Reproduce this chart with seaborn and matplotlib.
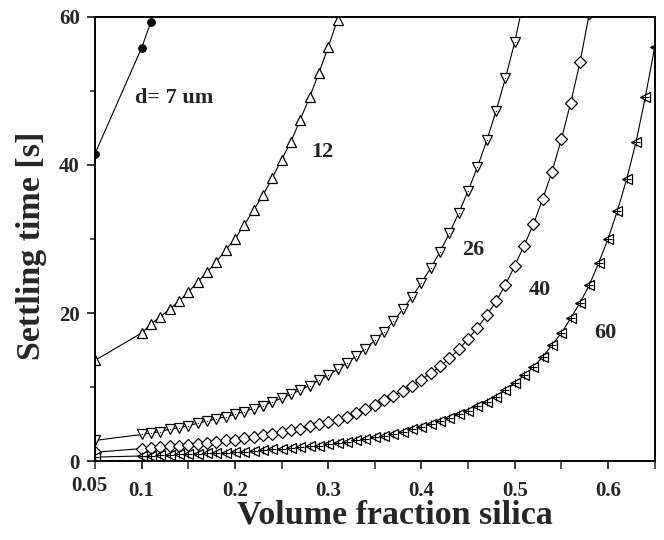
import numpy as np
import pandas as pd
import matplotlib
matplotlib.use("Agg")
import matplotlib.pyplot as plt
import seaborn as sns

# ---------------- data ----------------
x_d7 = [0.05, 0.10, 0.11]
t_d7 = [41.5, 55.8, 59.3]

x_d12 = [0.05, 0.10, 0.11, 0.12, 0.13, 0.14, 0.15, 0.16, 0.17, 0.18, 0.19, 0.20,
         0.21, 0.22, 0.23, 0.24, 0.25, 0.26, 0.27, 0.28, 0.29, 0.30, 0.31]
t_d12 = [13.6, 17.3, 18.5, 19.5, 20.5, 21.6, 22.8, 24.2, 25.5, 26.9, 28.5, 30.0,
         31.9, 33.9, 35.9, 38.2, 40.7, 43.1, 46.1, 49.1, 52.4, 55.9, 59.6]

x_d26 = [0.05, 0.10, 0.11, 0.12, 0.13, 0.14, 0.15, 0.16, 0.17, 0.18, 0.19, 0.20,
         0.21, 0.22, 0.23, 0.24, 0.25, 0.26, 0.27, 0.28, 0.29, 0.30,
         0.31, 0.32, 0.33, 0.34, 0.35, 0.36, 0.37, 0.38, 0.39, 0.40,
         0.41, 0.42, 0.43, 0.44, 0.45, 0.46, 0.47, 0.48, 0.49, 0.50, 0.51]
t_d26 = [2.8, 3.6, 3.8, 4.0, 4.3, 4.5, 4.8, 5.1, 5.4, 5.7, 6.0, 6.3,
         6.7, 7.1, 7.5, 8.0, 8.5, 9.0, 9.6, 10.2, 10.9, 11.6,
         12.4, 13.2, 14.2, 15.2, 16.3, 17.5, 18.9, 20.5, 22.2, 24.1,
         26.1, 28.3, 30.8, 33.5, 36.5, 39.7, 43.3, 47.3, 51.7, 56.6, 62.5]

x_d40 = [0.05, 0.10, 0.11, 0.12, 0.13, 0.14, 0.15, 0.16, 0.17, 0.18, 0.19, 0.20,
         0.21, 0.22, 0.23, 0.24, 0.25, 0.26, 0.27, 0.28, 0.29, 0.30,
         0.31, 0.32, 0.33, 0.34, 0.35, 0.36, 0.37, 0.38, 0.39, 0.40,
         0.41, 0.42, 0.43, 0.44, 0.45, 0.46, 0.47, 0.48, 0.49, 0.50,
         0.51, 0.52, 0.53, 0.54, 0.55, 0.56, 0.57, 0.58]
t_d40 = [1.2, 1.7, 1.8, 1.9, 2.0, 2.1, 2.2, 2.3, 2.5, 2.6, 2.8, 2.9,
         3.1, 3.3, 3.5, 3.7, 3.9, 4.2, 4.4, 4.7, 5.0, 5.3,
         5.6, 6.0, 6.5, 7.0, 7.6, 8.2, 8.8, 9.5, 10.2, 11.0,
         11.9, 12.8, 13.9, 15.1, 16.5, 18.0, 19.7, 21.6, 23.8, 26.4,
         29.1, 32.0, 35.4, 39.1, 43.5, 48.4, 53.9, 60.5]

x_d60 = [0.05, 0.10, 0.11, 0.12, 0.13, 0.14, 0.15, 0.16, 0.17, 0.18, 0.19, 0.20,
         0.21, 0.22, 0.23, 0.24, 0.25, 0.26, 0.27, 0.28, 0.29, 0.30,
         0.31, 0.32, 0.33, 0.34, 0.35, 0.36, 0.37, 0.38, 0.39, 0.40,
         0.41, 0.42, 0.43, 0.44, 0.45, 0.46, 0.47, 0.48, 0.49, 0.50,
         0.51, 0.52, 0.53, 0.54, 0.55, 0.56, 0.57, 0.58, 0.59, 0.60,
         0.61, 0.62, 0.63, 0.64, 0.65]
t_d60 = [0.55, 0.70, 0.75, 0.80, 0.85, 0.90, 0.95, 1.00, 1.05, 1.10, 1.15, 1.20,
         1.30, 1.40, 1.50, 1.60, 1.70, 1.80, 1.90, 2.00, 2.10, 2.25,
         2.40, 2.60, 2.80, 3.00, 3.20, 3.40, 3.70, 4.00, 4.30, 4.60,
         5.00, 5.40, 5.80, 6.30, 6.80, 7.40, 8.00, 8.70, 9.60, 10.5,
         11.6, 12.7, 14.1, 15.7, 17.3, 19.3, 21.4, 23.8, 26.8, 30.0,
         33.8, 38.1, 43.1, 49.2, 55.9]

curve_labels = ["d= 7 um", "12", "26", "40", "60"]
label_x = [0.135, 0.294, 0.456, 0.527, 0.597]
label_y = [49.0, 41.8, 28.5, 23.1, 17.3]

x_ticks = [0.1, 0.2, 0.3, 0.4, 0.5, 0.6]
x_tick_labels = ["0.1", "0.2", "0.3", "0.4", "0.5", "0.6"]
x_minor = [0.05, 0.15, 0.25, 0.35, 0.45, 0.55, 0.65]
y_ticks = [0, 20, 40, 60]
y_minor = [10, 30, 50]

# ---------------- style ----------------
sns.set_style("ticks")
plt.rcParams["font.family"] = ["Liberation Serif", "DejaVu Serif"]
plt.rcParams["font.weight"] = "bold"

fig = plt.figure(figsize=(6.64, 5.40), dpi=100)
ax = fig.add_axes([0.143, 0.146, 0.843, 0.823])

lw = 0.8
# d = 7 um : filled circles
sns.lineplot(x=x_d7, y=t_d7, ax=ax, color="black", linewidth=lw, marker="o",
             markersize=5.5, markerfacecolor="black", markeredgecolor="black",
             sort=False, estimator=None)
# d = 12 : open up triangles
sns.lineplot(x=x_d12, y=t_d12, ax=ax, color="black", linewidth=lw, marker="^",
             markersize=7.5, markerfacecolor="white", markeredgecolor="black",
             markeredgewidth=0.9, sort=False, estimator=None)
# d = 26 : open down triangles with a tiny dot
sns.lineplot(x=x_d26, y=t_d26, ax=ax, color="black", linewidth=lw, marker="v",
             markersize=7.5, markerfacecolor="white", markeredgecolor="black",
             markeredgewidth=0.9, sort=False, estimator=None)
sns.scatterplot(x=x_d26, y=t_d26, ax=ax, color="black", marker=".", s=3,
                linewidth=0, zorder=5)
# d = 40 : open diamonds
sns.lineplot(x=x_d40, y=t_d40, ax=ax, color="black", linewidth=lw, marker="D",
             markersize=6, markerfacecolor="white", markeredgecolor="black",
             markeredgewidth=0.9, sort=False, estimator=None)
# d = 60 : left triangles with plus
sns.lineplot(x=x_d60, y=t_d60, ax=ax, color="black", linewidth=lw, marker="<",
             markersize=7, markerfacecolor="white", markeredgecolor="black",
             markeredgewidth=0.9, sort=False, estimator=None)
sns.scatterplot(x=x_d60, y=t_d60, ax=ax, color="black", marker="+", s=40,
                linewidth=0.8, zorder=5)

ax.set_xlim(0.05, 0.65)
ax.set_ylim(0, 60)

ax.set_xticks(x_ticks)
ax.set_xticklabels(x_tick_labels)
ax.set_xticks(x_minor, minor=True)
ax.set_yticks(y_ticks)
ax.set_yticks(y_minor, minor=True)
ax.tick_params(axis="both", which="major", direction="out", length=6, width=1.1,
               labelsize=15, color="black")
ax.tick_params(axis="x", which="major", pad=8)
ax.tick_params(axis="y", which="major", pad=5)
ax.tick_params(axis="x", which="minor", direction="out", length=6, width=1.1)
ax.tick_params(axis="y", which="minor", direction="out", length=3.5, width=1.1)
for lab in ax.get_xticklabels() + ax.get_yticklabels():
    lab.set_fontweight("bold")

# special 0.05 label (slightly raised and left of its tick)
ax.annotate("0.05", xy=(0.05, 0), xycoords=("data", "axes fraction"),
            xytext=(-6, -15), textcoords="offset pixels",
            ha="center", va="top", fontsize=15, fontweight="bold")

for s in ax.spines.values():
    s.set_visible(True)
    s.set_linewidth(1.4)
    s.set_color("black")

ax.set_xlabel("Volume fraction silica", fontsize=24.5, fontweight="bold",
              va="baseline")
ax.xaxis.set_label_coords(0.536, -0.14)
ax.set_ylabel("Settling time [s]", fontsize=24.5, fontweight="bold")
ax.yaxis.set_label_coords(-0.085, 0.484)

for txt, lx, ly in zip(curve_labels, label_x, label_y):
    ax.text(lx, ly, txt, ha="center", va="center", fontsize=16, fontweight="bold")

fig.savefig("out.png", dpi=100)
